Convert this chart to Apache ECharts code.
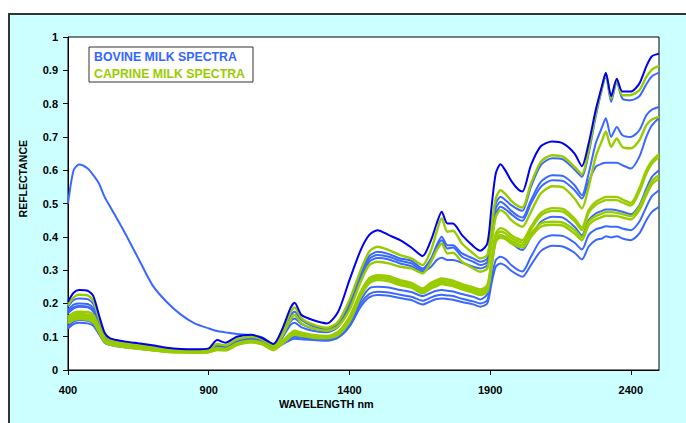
<!DOCTYPE html>
<html>
<head>
<meta charset="utf-8">
<script src="https://cdn.jsdelivr.net/npm/echarts@6/dist/echarts.min.js"></script>
<style>
  html, body { margin: 0; padding: 0; background: #ffffff; width: 686px; height: 423px; overflow: hidden; }
  #bg { position: absolute; left: 8px; top: 13px; width: 690px; height: 420px; background: #CCFFFF; border-left: 2px solid #333; border-top: 2px solid #333; }
  #chart { position: absolute; left: 0; top: 0; width: 686px; height: 423px; }
</style>
</head>
<body>
<div id="bg"></div>
<div id="chart"></div>
<script>
// Wavelength grid (nm)
const W = [400,420,440,470,490,510,530,550,600,650,700,750,800,850,900,930,960,1000,1050,1090,1130,1160,1190,1205,1230,1270,1320,1360,1400,1440,1470,1500,1540,1580,1620,1660,1690,1710,1728,1748,1768,1800,1840,1865,1890,1905,1920,1937,1955,1975,2000,2015,2045,2080,2120,2160,2200,2226,2250,2275,2298,2311,2330,2350,2370,2400,2430,2455,2475,2500];

// Bovine spectra (reflectance)
const BOV_DARK = [0.205,0.232,0.24,0.238,0.222,0.165,0.112,0.095,0.086,0.08,0.074,0.067,0.063,0.062,0.065,0.09,0.082,0.1,0.106,0.096,0.078,0.12,0.185,0.202,0.165,0.15,0.14,0.175,0.27,0.36,0.405,0.42,0.405,0.39,0.368,0.342,0.39,0.44,0.475,0.44,0.44,0.405,0.372,0.358,0.38,0.49,0.59,0.618,0.598,0.568,0.542,0.536,0.615,0.672,0.686,0.68,0.65,0.612,0.68,0.78,0.855,0.893,0.822,0.875,0.836,0.836,0.86,0.912,0.942,0.95];
const BOV_1 = [0.19,0.21,0.215,0.213,0.198,0.148,0.103,0.09,0.082,0.077,0.07,0.064,0.061,0.06,0.062,0.075,0.072,0.09,0.097,0.09,0.07,0.108,0.162,0.175,0.15,0.132,0.124,0.14,0.2,0.29,0.342,0.355,0.348,0.335,0.328,0.305,0.335,0.375,0.40,0.375,0.375,0.35,0.335,0.325,0.335,0.42,0.5,0.52,0.51,0.495,0.482,0.478,0.55,0.615,0.636,0.632,0.602,0.58,0.65,0.76,0.845,0.885,0.805,0.865,0.815,0.81,0.822,0.858,0.882,0.893];
const BOV_2 = [0.18,0.196,0.2,0.198,0.185,0.14,0.1,0.088,0.08,0.075,0.068,0.063,0.06,0.06,0.061,0.072,0.07,0.088,0.095,0.088,0.068,0.1,0.145,0.155,0.138,0.125,0.12,0.135,0.19,0.28,0.333,0.345,0.34,0.328,0.32,0.3,0.33,0.37,0.39,0.365,0.368,0.34,0.325,0.315,0.325,0.405,0.485,0.505,0.495,0.478,0.462,0.458,0.51,0.565,0.585,0.582,0.555,0.525,0.59,0.68,0.73,0.756,0.70,0.73,0.705,0.70,0.72,0.765,0.782,0.79];
const BOV_3 = [0.175,0.188,0.192,0.19,0.178,0.135,0.098,0.087,0.079,0.074,0.068,0.062,0.06,0.059,0.06,0.07,0.068,0.085,0.092,0.086,0.066,0.095,0.135,0.142,0.128,0.118,0.113,0.13,0.185,0.275,0.325,0.336,0.332,0.32,0.312,0.295,0.31,0.33,0.337,0.33,0.33,0.322,0.31,0.305,0.315,0.39,0.47,0.49,0.482,0.468,0.452,0.448,0.5,0.55,0.57,0.567,0.54,0.515,0.565,0.61,0.62,0.622,0.622,0.622,0.615,0.605,0.64,0.70,0.735,0.757];
const BOV_4 = [0.17,0.185,0.19,0.188,0.175,0.132,0.096,0.085,0.077,0.072,0.066,0.061,0.059,0.058,0.059,0.067,0.066,0.082,0.09,0.084,0.065,0.082,0.1,0.105,0.1,0.096,0.094,0.105,0.145,0.21,0.245,0.25,0.248,0.24,0.234,0.222,0.232,0.238,0.24,0.238,0.236,0.228,0.22,0.212,0.228,0.31,0.39,0.405,0.398,0.382,0.365,0.36,0.40,0.445,0.46,0.457,0.43,0.405,0.45,0.47,0.478,0.482,0.482,0.48,0.475,0.468,0.495,0.545,0.58,0.60];
const BOV_5 = [0.13,0.145,0.15,0.148,0.14,0.112,0.085,0.077,0.07,0.066,0.061,0.057,0.055,0.055,0.056,0.064,0.063,0.079,0.087,0.081,0.063,0.078,0.095,0.1,0.097,0.094,0.092,0.1,0.135,0.2,0.228,0.235,0.233,0.226,0.22,0.208,0.218,0.224,0.226,0.224,0.222,0.214,0.206,0.2,0.21,0.275,0.33,0.34,0.333,0.315,0.3,0.296,0.34,0.39,0.405,0.402,0.382,0.362,0.405,0.422,0.428,0.432,0.43,0.43,0.425,0.42,0.445,0.49,0.522,0.54];
const BOV_6 = [0.125,0.138,0.142,0.14,0.133,0.108,0.082,0.075,0.068,0.064,0.059,0.055,0.054,0.054,0.055,0.062,0.061,0.077,0.085,0.079,0.062,0.076,0.09,0.094,0.092,0.09,0.088,0.097,0.13,0.19,0.218,0.225,0.223,0.216,0.21,0.197,0.207,0.213,0.215,0.213,0.211,0.204,0.197,0.19,0.2,0.26,0.31,0.32,0.313,0.298,0.285,0.28,0.315,0.357,0.373,0.37,0.352,0.332,0.37,0.39,0.395,0.402,0.398,0.402,0.395,0.39,0.41,0.45,0.475,0.49];
// Bovine spectrum with the high visible-range hump (400-1130 nm, then it merges with the bundle)
const BOV_VIS = [0.50,0.60,0.617,0.605,0.585,0.56,0.52,0.49,0.415,0.335,0.255,0.205,0.167,0.14,0.125,0.117,0.113,0.108,0.105,0.098,0.075];

// Caprine spectra (reflectance)
const CAP_1 = [0.195,0.218,0.226,0.224,0.208,0.155,0.106,0.09,0.08,0.075,0.068,0.062,0.059,0.058,0.06,0.078,0.074,0.092,0.1,0.092,0.072,0.112,0.172,0.188,0.155,0.137,0.127,0.145,0.21,0.30,0.355,0.37,0.36,0.345,0.335,0.315,0.36,0.415,0.456,0.415,0.418,0.38,0.35,0.335,0.345,0.43,0.515,0.54,0.528,0.508,0.492,0.488,0.56,0.625,0.645,0.64,0.61,0.588,0.66,0.77,0.85,0.89,0.815,0.872,0.825,0.826,0.84,0.88,0.902,0.913];
const CAP_2 = [0.16,0.172,0.175,0.174,0.165,0.13,0.092,0.082,0.074,0.069,0.063,0.058,0.056,0.056,0.057,0.066,0.064,0.08,0.088,0.082,0.064,0.1,0.15,0.165,0.14,0.125,0.118,0.132,0.18,0.265,0.315,0.325,0.32,0.31,0.305,0.29,0.325,0.36,0.38,0.35,0.352,0.325,0.305,0.295,0.305,0.38,0.46,0.48,0.47,0.45,0.435,0.43,0.475,0.53,0.552,0.548,0.515,0.485,0.55,0.64,0.69,0.716,0.67,0.695,0.67,0.666,0.69,0.735,0.752,0.76];
const CAP_3 = [0.155,0.165,0.168,0.166,0.158,0.125,0.09,0.08,0.072,0.067,0.062,0.057,0.055,0.055,0.056,0.063,0.062,0.078,0.086,0.08,0.063,0.085,0.11,0.118,0.112,0.105,0.102,0.115,0.16,0.235,0.275,0.285,0.282,0.27,0.262,0.245,0.262,0.27,0.275,0.272,0.268,0.258,0.248,0.242,0.255,0.33,0.41,0.426,0.42,0.405,0.394,0.39,0.43,0.472,0.486,0.483,0.455,0.428,0.48,0.505,0.515,0.52,0.52,0.52,0.512,0.502,0.545,0.60,0.628,0.648];
const CAP_4 = [0.15,0.16,0.163,0.161,0.153,0.122,0.088,0.078,0.071,0.066,0.061,0.056,0.054,0.054,0.055,0.062,0.061,0.077,0.085,0.079,0.062,0.083,0.107,0.114,0.109,0.103,0.1,0.112,0.155,0.23,0.27,0.28,0.277,0.265,0.257,0.24,0.257,0.264,0.268,0.266,0.262,0.252,0.242,0.236,0.248,0.322,0.4,0.416,0.41,0.396,0.386,0.382,0.422,0.464,0.478,0.475,0.447,0.42,0.472,0.496,0.506,0.51,0.51,0.51,0.503,0.494,0.535,0.59,0.62,0.64];
const CAP_5 = [0.145,0.155,0.158,0.156,0.148,0.118,0.086,0.077,0.07,0.065,0.06,0.055,0.053,0.053,0.054,0.061,0.06,0.076,0.084,0.078,0.061,0.08,0.104,0.11,0.106,0.1,0.097,0.108,0.15,0.225,0.265,0.276,0.272,0.26,0.252,0.235,0.25,0.258,0.263,0.26,0.257,0.247,0.237,0.23,0.242,0.318,0.392,0.405,0.4,0.387,0.378,0.374,0.41,0.44,0.445,0.442,0.42,0.398,0.445,0.462,0.47,0.474,0.474,0.472,0.468,0.462,0.49,0.535,0.568,0.585];
const CAP_6 = [0.14,0.15,0.153,0.151,0.143,0.115,0.084,0.076,0.069,0.064,0.059,0.055,0.053,0.052,0.053,0.06,0.059,0.075,0.083,0.077,0.06,0.078,0.1,0.106,0.102,0.097,0.095,0.105,0.145,0.22,0.26,0.27,0.266,0.255,0.247,0.23,0.245,0.252,0.258,0.255,0.252,0.242,0.232,0.225,0.236,0.31,0.385,0.398,0.393,0.38,0.371,0.367,0.40,0.43,0.436,0.433,0.41,0.39,0.435,0.452,0.46,0.463,0.463,0.462,0.458,0.452,0.48,0.525,0.558,0.575];

const X_TICKS = [400, 900, 1400, 1900, 2400];
const BOVINE_NAME = 'BOVINE MILK SPECTRA';
const CAPRINE_NAME = 'CAPRINE MILK SPECTRA';
const X_TITLE = 'WAVELENGTH nm';
const Y_TITLE = 'REFLECTANCE';

const BLUE = '#3A68FF';
const DARK_BLUE = '#0000EE';
const GREEN = '#99CC00';
const FONT = '"Liberation Sans", Arial, sans-serif';

function pts(arr) {
  const out = [];
  for (let i = 0; i < arr.length; i++) out.push([W[i], arr[i]]);
  return out;
}
function line(name, arr, color, width) {
  return {
    name: name, type: 'line', data: pts(arr), showSymbol: false, symbol: 'none',
    smooth: 0.25, lineStyle: { color: color, width: width }, itemStyle: { color: color },
    emphasis: { disabled: true }, silent: true, clip: true
  };
}

const series = [];
[BOV_VIS, BOV_1, BOV_2, BOV_3, BOV_4, BOV_5, BOV_6].forEach(a => series.push(line(BOVINE_NAME, a, BLUE, 2)));
[CAP_1, CAP_2, CAP_3, CAP_4, CAP_5, CAP_6].forEach(a => series.push(line(CAPRINE_NAME, a, GREEN, 2.4)));
series.push(line(BOVINE_NAME, BOV_DARK, DARK_BLUE, 2));

const chart = echarts.init(document.getElementById('chart'), null, { renderer: 'svg' });
chart.setOption({
  animation: false,
  backgroundColor: 'transparent',
  grid: { left: 68, top: 37, right: 27, bottom: 53, show: true, backgroundColor: '#ffffff', borderColor: '#000', borderWidth: 1 },
  legend: {
    orient: 'vertical', left: 89, top: 47, padding: [2, 8, 2, 0], itemGap: 3,
    itemWidth: 0, itemHeight: 16, icon: 'none', selectedMode: false,
    backgroundColor: '#ffffff', borderColor: '#333', borderWidth: 1,
    textStyle: { fontFamily: FONT, fontWeight: 'bold', fontSize: 12.3 },
    data: [
      { name: BOVINE_NAME, textStyle: { color: '#3366FF' } },
      { name: CAPRINE_NAME, textStyle: { color: '#99CC00' } }
    ]
  },
  xAxis: {
    type: 'value', min: 400, max: 2500,
    axisLine: { show: true, lineStyle: { color: '#000', width: 1 } },
    axisTick: { show: true, length: 5, lineStyle: { color: '#000' }, customValues: X_TICKS },
    axisLabel: { fontFamily: FONT, fontWeight: 'bold', fontSize: 11, color: '#000', margin: 14,
      customValues: X_TICKS, formatter: v => String(v) },
    splitLine: { show: false }
  },
  yAxis: {
    type: 'value', min: 0, max: 1, interval: 0.1,
    axisLine: { show: true, lineStyle: { color: '#000', width: 1 } },
    axisTick: { show: true, length: 5, lineStyle: { color: '#000' } },
    axisLabel: { fontFamily: FONT, fontWeight: 'bold', fontSize: 11, color: '#000', margin: 10,
      formatter: v => (Math.abs(v) < 1e-9 ? '0' : (Math.abs(v - 1) < 1e-9 ? '1' : v.toFixed(1))) },
    splitLine: { show: false }
  },
  graphic: [{
    type: 'text', left: 17, top: 140, rotation: Math.PI / 2,
    style: { text: Y_TITLE, fontFamily: FONT, fontWeight: 'bold', fontSize: 10.5, fill: '#000' }
  }, {
    type: 'text', left: 279, top: 398,
    style: { text: X_TITLE, fontFamily: FONT, fontWeight: 'bold', fontSize: 10.8, fill: '#000' }
  }],
  series: series
});
</script>
</body>
</html>
